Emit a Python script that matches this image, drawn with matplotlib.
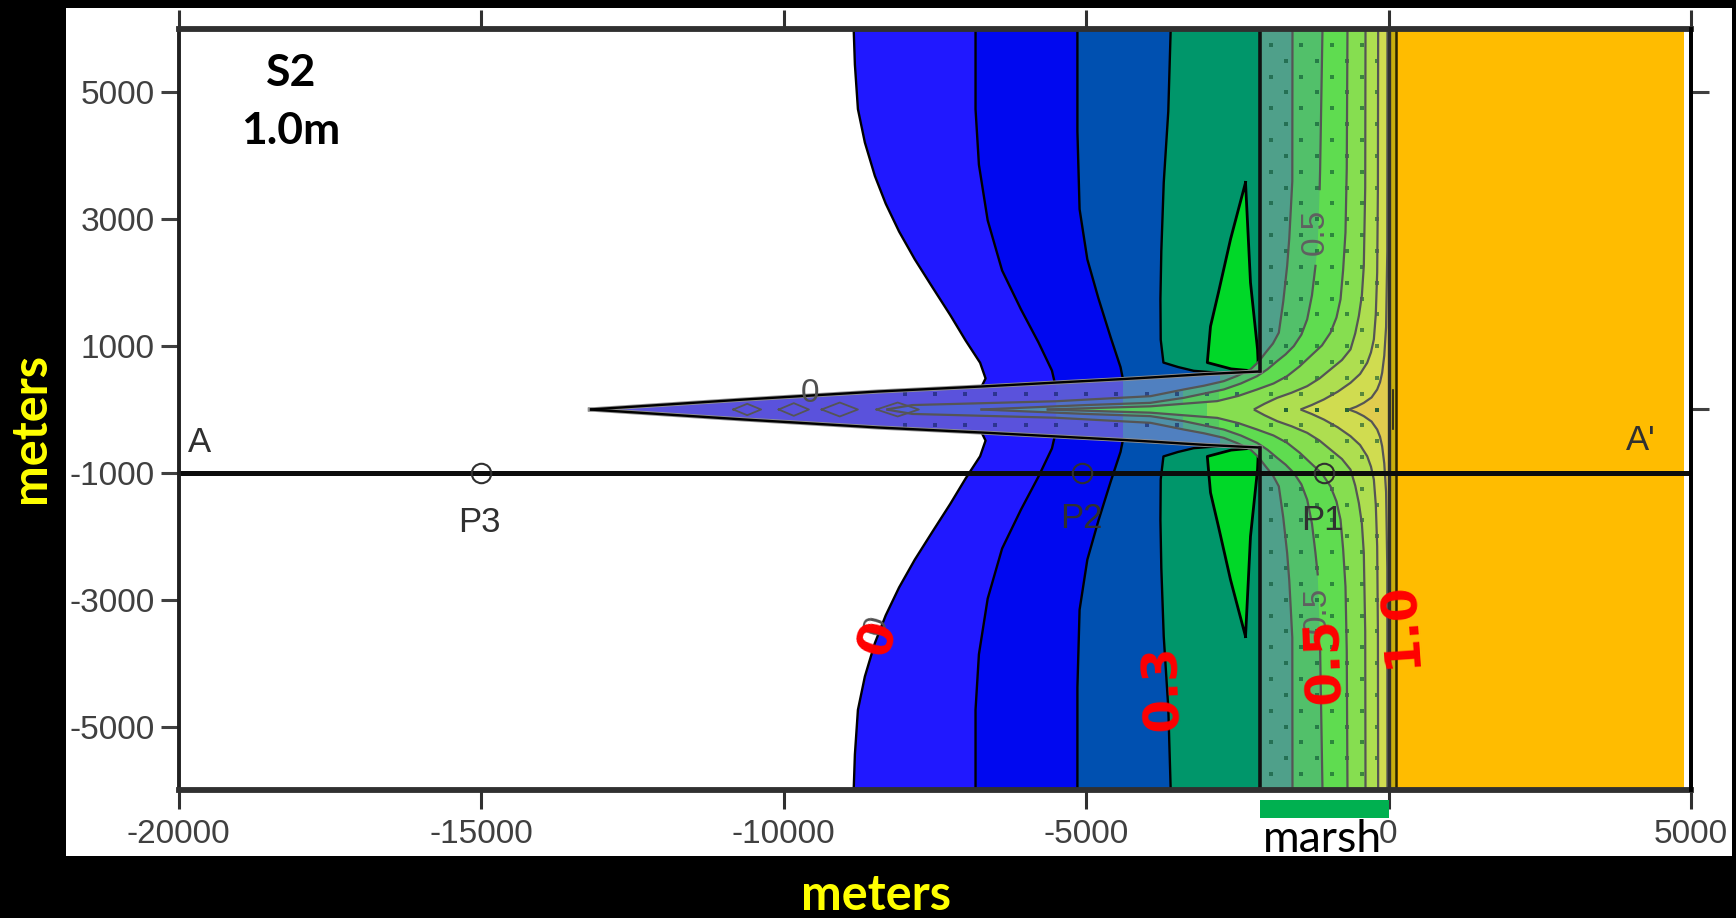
import matplotlib
matplotlib.use("Agg")
import matplotlib.pyplot as plt
from matplotlib.patches import Rectangle
import numpy as np

plt.rcParams['font.family'] = ['Liberation Sans', 'DejaVu Sans']
plt.rcParams['axes.unicode_minus'] = False

W = 1736
H = 918

# Axis ticks
x_ticks = [-20000, -15000, -10000, -5000, 0, 5000]
x_tick_labels = ["-20000", "-15000", "-10000", "-5000", "0", "5000"]
y_ticks = [5000, 3000, 1000, -1000, -3000, -5000]
y_tick_labels = ["5000", "3000", "1000", "-1000", "-3000", "-5000"]
right_ticks = [5000, 0]

# Open water contours, upper half only (the plot is mirrored about y=0)
water0_x = [-8840, -8820, -8770, -8655, -8490, -8310, -8090, -7830, -7540, -7245, -6990, -6750, -6660, -6750]
water0_y = [6000, 5440, 4737, 4210, 3684, 3245, 2807, 2368, 1930, 1491, 1088, 737, 490, 316]
water1_x = [-6826, -6826, -6770, -6625, -6387, -6075, -5783, -5563, -5508]
water1_y = [6000, 4737, 3860, 2982, 2193, 1579, 1053, 614, 386]
water2_x = [-5142, -5142, -5106, -4978, -4795, -4593, -4429, -4390]
water2_y = [6000, 4386, 3158, 2368, 1754, 1140, 667, 480]
water3_x = [-3600, -3640, -3715, -3755, -3770, -3765, -3720, -3480, -3220, -2700, -2116]
water3_y = [6000, 4700, 3580, 2500, 1740, 1100, 740, 670, 610, 570, 600]
water_colors = ["#2018FF", "#0008F0", "#0050B0", "#00966A"]

# Green triangle
tri_x = [-2363, -2611, -2810, -2942, -2995, -2600, -2148, -2165, -2281, -2363]
tri_y = [3580, 2685, 1848, 1311, 740, 640, 600, 950, 2000, 3580]

# Channel wedge, upper edge
wedge_x = [-13200, -10640, -8430, -6727, -4390, -3934, -3000, -2116]
wedge_y = [0, 158, 284, 363, 480, 505, 560, 600]
wedge_breaks = [-13200, -5490, -4390, -2777, -2116]
wedge_colors = ["#5A52DC", "#5858D8", "#5080C0", "#4FA08A"]

# Marsh contours, upper half
cont_a_x = [-1587, -1590, -1640, -1675, -1740, -1813, -1910, -2033, -2150, -2281, -2500, -2722, -3050, -3383,
            -3934, -5500, -7870, -8300]
cont_a_y = [6000, 3600, 2700, 2265, 1700, 1211, 1040, 895, 750, 632, 530, 447, 375, 316, 210, 130, 70, 0]
cont_b_x = [-1091, -1130, -1138, -1170, -1207, -1265, -1344, -1440, -1565, -1700, -1840, -2000, -2171, -2440,
            -2722, -3383, -3934, -5000, -6727]
cont_b_y = [6000, 3790, 3475, 2600, 2265, 1800, 1422, 1180, 1000, 870, 763, 635, 526, 410, 316, 184, 105, 70, 0]
cont_c_x = [-678, -690, -711, -750, -793, -860, -959, -1100, -1289, -1470, -1675, -1900, -2171, -2480, -2832,
            -3934, -4800, -5650]
cont_c_y = [6000, 3800, 2792, 2200, 1738, 1450, 1211, 1010, 842, 680, 526, 410, 316, 215, 132, 50, 25, 0]
cont_d_x = [-380, -385, -408, -440, -490, -550, -628, -770, -959, -1140, -1344, -1600, -1840, -2050, -2226]
cont_d_y = [6000, 3500, 2265, 1800, 1475, 1200, 948, 780, 632, 490, 368, 265, 184, 90, 0]
cont_e_x = [-171, -175, -187, -210, -242, -290, -352, -470, -628, -840, -1069, -1270, -1454]
cont_e_y = [6000, 3500, 2160, 1500, 1106, 900, 737, 560, 421, 280, 158, 70, 0]
cont_f_x = [-17, -20, -40, -70, -105, -140, -187, -280, -408, -530, -655]
cont_f_y = [6000, 2500, 1300, 850, 579, 430, 316, 190, 105, 45, 0]

a_breaks = [-8300, -5490, -4390, -3400, -2777, 0]
a_colors = ["#5060D8", "#5070C8", "#4F90A8", "#50A88A", "#52C06A"]
b_breaks = [-6727, -4390, -3400, -2800, 0]
b_colors = ["#5090B0", "#50B080", "#55C860", "#5FDC50"]
c_breaks = [-5650, -3000, 0]
c_colors = ["#55D060", "#86DE50"]

# Little closed contours in the wedge
lens_x = [-8113, -9070, -9830, -10600]
lens_half_w = [350, 300, 250, 230]
lens_half_h = [110, 110, 100, 90]

# Grid nodes
node_x1 = [-1940, -1440, -940, -440]
node_x2 = [-1690, -1190, -690, -190]
node_y1 = [5750, 5250, 4750, 4250, 3750, 3250, 2750, 2250, 1750, 1250, 750, 250]
node_y2 = [5500, 5000, 4500, 4000, 3500, 3000, 2500, 2000, 1500, 1000, 500, 0]
wedge_node_x = [-8000, -7500, -7000, -6500, -6000, -5500, -5000, -4500, -4000, -3500, -3000, -2500]
wedge_node_y = [250]

# Profile line points
pts_x = [-15000, -5070, -1070]
pts_y = [-1000, -1000, -1000]
pts_names = ["P3", "P2", "P1"]


def mirror(xs, ys):
    return list(xs) + list(xs[::-1]), list(ys) + [-v for v in ys[::-1]]


def px(x, y):
    return x / W, 1 - y / H


def contour_line(xs, ys, color, lw, z=5):
    ax.plot(xs, ys, color=color, lw=lw, zorder=z, solid_capstyle="butt")
    ax.plot(xs, [-v for v in ys], color=color, lw=lw, zorder=z, solid_capstyle="butt")


def fill_by_x(xs, ys, breaks, colors, z):
    # one closed shape, coloured in vertical strips
    mx, my = mirror(xs, ys)
    shape = ax.fill(mx + [0, 0], my + [-6000, 6000], facecolor="none", edgecolor="none", zorder=z)[0]
    for i in range(len(colors)):
        s = ax.axvspan(breaks[i], breaks[i + 1], facecolor=colors[i], edgecolor="none", zorder=z)
        s.set_clip_path(shape)


fig = plt.figure(figsize=(W / 100, H / 100), dpi=100, facecolor="black")
fig.patches.append(Rectangle((66 / W, 1 - 856 / H), (1732 - 66) / W, (856 - 8) / H,
                             transform=fig.transFigure, facecolor="white", edgecolor="none", zorder=-5))
ax = fig.add_axes([178.5 / W, 1 - 790 / H, (1691 - 178.5) / W, (790 - 29) / H])
ax.set_facecolor("white")
ax.set_xlim(-20000, 5000)
ax.set_ylim(-6000, 6000)

# open water bands
for xs, ys, col in zip([water0_x, water1_x, water2_x, water3_x],
                       [water0_y, water1_y, water2_y, water3_y], water_colors):
    mx, my = mirror(xs, ys)
    ax.fill(mx + [5000, 5000], my + [-6000, 6000], color=col, lw=0, zorder=1)

# triangles either side of the channel
ax.fill(tri_x, tri_y, color="#00D828", lw=0, zorder=2)
ax.fill(tri_x, [-v for v in tri_y], color="#00D828", lw=0, zorder=2)
ax.plot(tri_x, tri_y, color="black", lw=2, zorder=2.5)
ax.plot(tri_x, [-v for v in tri_y], color="black", lw=2, zorder=2.5)

for xs, ys in [(water0_x, water0_y), (water1_x, water1_y), (water2_x, water2_y), (water3_x, water3_y)]:
    contour_line(xs, ys, "black", 1.7, 2.5)

# wedge
mx, my = mirror(wedge_x, wedge_y)
wedge = ax.fill(mx, my, facecolor="none", edgecolor="none", zorder=3)[0]
for i in range(len(wedge_colors)):
    s = ax.axvspan(wedge_breaks[i], wedge_breaks[i + 1], facecolor=wedge_colors[i], edgecolor="none", zorder=3)
    s.set_clip_path(wedge)

# marsh bands
ax.axvspan(-2116, 0, facecolor="#4FA08A", edgecolor="none", zorder=3)
ax.axvspan(0, 132, facecolor="#C8AE0E", edgecolor="none", zorder=3)
ax.axvspan(132, 4880, facecolor="#FFBC00", edgecolor="none", zorder=3)
ax.axvspan(4880, 5000, facecolor="white", edgecolor="none", zorder=3)

fill_by_x(cont_a_x, cont_a_y, a_breaks, a_colors, 3.1)
fill_by_x(cont_b_x, cont_b_y, b_breaks, b_colors, 3.2)
fill_by_x(cont_c_x, cont_c_y, c_breaks, c_colors, 3.3)
for xs, ys, col, z in [(cont_d_x, cont_d_y, "#AEDE50", 3.4), (cont_e_x, cont_e_y, "#D0DC50", 3.5),
                       (cont_f_x, cont_f_y, "#E0CC4E", 3.6)]:
    mx, my = mirror(xs, ys)
    ax.fill(mx + [0, 0], my + [-6000, 6000], color=col, lw=0, zorder=z)

# grid nodes
gx, gy = np.meshgrid(node_x1, node_y1)
ax.plot(gx.ravel(), gy.ravel(), "s", color="#0A5030", alpha=0.6, ms=3.3, mew=0, zorder=4)
ax.plot(gx.ravel(), -gy.ravel(), "s", color="#0A5030", alpha=0.6, ms=3.3, mew=0, zorder=4)
gx, gy = np.meshgrid(node_x2, node_y2)
ax.plot(gx.ravel(), gy.ravel(), "s", color="#0A5030", alpha=0.6, ms=3.3, mew=0, zorder=4)
ax.plot(gx.ravel(), -gy.ravel(), "s", color="#0A5030", alpha=0.6, ms=3.3, mew=0, zorder=4)
gx, gy = np.meshgrid(wedge_node_x, wedge_node_y)
ax.plot(gx.ravel(), gy.ravel(), "s", color="#102060", alpha=0.6, ms=3.3, mew=0, zorder=4)
ax.plot(gx.ravel(), -gy.ravel(), "s", color="#102060", alpha=0.6, ms=3.3, mew=0, zorder=4)

# contour lines
grey = "#555555"
contour_line(cont_a_x, cont_a_y, grey, 1.6)
upper_b = [np.nan if v == 2600 else v for v in cont_b_y]
lower_b = [np.nan if v == 3475 else -v for v in cont_b_y]
ax.plot(cont_b_x, upper_b, color=grey, lw=1.6, zorder=5)
ax.plot(cont_b_x, lower_b, color=grey, lw=1.6, zorder=5)
contour_line(cont_c_x, cont_c_y, grey, 1.6)
contour_line(cont_d_x, cont_d_y, grey, 1.6)
contour_line(cont_e_x, cont_e_y, grey, 1.6)
contour_line(cont_f_x, cont_f_y, grey, 1.6)

for cx, hw, hh in zip(lens_x, lens_half_w, lens_half_h):
    ax.plot([cx - hw, cx, cx + hw, cx, cx - hw], [0, hh, 0, -hh, 0], color=grey, lw=1.3, zorder=5)

# wedge edge
ax.plot(wedge_x, wedge_y, color="#909090", lw=3, zorder=5)
ax.plot(wedge_x, [-v for v in wedge_y], color="#909090", lw=3, zorder=5)
contour_line(wedge_x, wedge_y, "black", 1.7, 5.1)

# marsh limits
ax.plot([-2116, -2116], [600, 6000], color="#101010", lw=2.6, zorder=5.5)
ax.plot([-2116, -2116], [-600, -6000], color="#101010", lw=2.6, zorder=5.5)
ax.plot([0, 0], [-6000, 6000], color="#303030", lw=2.4, zorder=5.5)
ax.plot([132, 132], [-6000, 6000], color="#2A2400", lw=1.8, zorder=5.5)
ax.plot([70, 70], [-300, 300], color="#202020", lw=1.2, zorder=5.5)

# profile line
ax.plot([-20000, 5000], [-1000, -1000], color="#0C0C0C", lw=3.6, zorder=6)
ax.plot(pts_x, pts_y, "o", mfc="none", mec="#303030", ms=14, mew=1.5, zorder=6)

# axes
for side in ["top", "bottom"]:
    ax.spines[side].set_linewidth(4.2)
    ax.spines[side].set_color("#303030")
for side in ["left", "right"]:
    ax.spines[side].set_linewidth(2.8)
    ax.spines[side].set_color("#202020")
for s in ax.spines.values():
    s.set_zorder(7)

ax.set_xticks(x_ticks)
ax.set_xticklabels(x_tick_labels)
ax.set_yticks(y_ticks)
ax.set_yticklabels(y_tick_labels)
ax.tick_params(axis="x", top=True, length=14, width=2.2, color="#303030", labelcolor="#404040", labelsize=24, pad=7)
ax.tick_params(axis="y", length=13, width=2.2, color="#404040", labelcolor="#404040", labelsize=24, pad=4)
ax_r = ax.twinx()
ax_r.set_ylim(-6000, 6000)
ax_r.set_yticks(right_ticks)
ax_r.set_yticklabels([])
ax_r.tick_params(axis="y", length=13, width=2.2, color="#404040")
ax_r.patch.set_visible(False)
for side in ["top", "bottom", "left"]:
    ax_r.spines[side].set_visible(False)
ax_r.spines["right"].set_linewidth(2.8)
ax_r.spines["right"].set_color("black")

# labels in the plot
label_col = "#303030"
for name, (lx, ly) in zip(pts_names, [(479, 522), (1081, 518), (1322, 520)]):
    fig.text(*px(lx, ly), name, color=label_col, fontsize=25, ha="center", va="center", zorder=8)
fig.text(*px(199, 443), "A", color=label_col, fontsize=25, ha="center", va="center", zorder=8)
fig.text(*px(1641, 440), "A'", color=label_col, fontsize=25, ha="center", va="center", zorder=8)
fig.text(*px(1315, 232), "0.5", color="#606060", fontsize=24, rotation=90, ha="center", va="center", zorder=8)
fig.text(*px(1317, 610), "0.5", color="#606060", fontsize=24, rotation=90, ha="center", va="center", zorder=8)
fig.text(*px(810, 394), "0", color="#505050", fontsize=24, ha="center", va="center", zorder=8)
fig.text(*px(877, 626), "0", color="#505050", fontsize=24, rotation=74, ha="center", va="center", zorder=8)

# annotations added on top
bold = ["Lato"]
fig.text(*px(291, 73), "S2", color="black", fontsize=32, fontweight="bold", family=bold, ha="center", va="center", zorder=9)
fig.text(*px(291, 131), "1.0m", color="black", fontsize=32, fontweight="bold", family=bold, ha="center", va="center", zorder=9)
fig.text(*px(31, 428), "meters", color="#FFFF00", fontsize=35, fontweight="bold", family=bold,
         rotation=90, ha="center", va="center", zorder=9)
fig.text(*px(876, 896), "meters", color="#FFFF00", fontsize=35, fontweight="bold", family=bold,
         ha="center", va="center", zorder=9)

red_font = ["DejaVu Sans"]
red_labels = ["0", "0.3", "0.5", "1.0"]
red_pos = [(878, 638), (1163, 687), (1325, 660), (1400, 624)]
red_rot = [74, 92, 92, 94]
for txt, pos, rot in zip(red_labels, red_pos, red_rot):
    fig.text(*px(pos[0], pos[1]), txt, color="#FF0000", fontsize=35, fontweight="bold", family=red_font,
             rotation=rot, ha="center", va="center", zorder=9)

# marsh bar
ax.add_patch(Rectangle((-2130, -6445), 2130, 284, facecolor="#00B050", edgecolor="none", clip_on=False, zorder=8))
fig.text(*px(1322, 839), "marsh", color="black", fontsize=32, family=["Lato"], ha="center", va="center", zorder=9)

fig.savefig("out.png", dpi=100, facecolor="black")
